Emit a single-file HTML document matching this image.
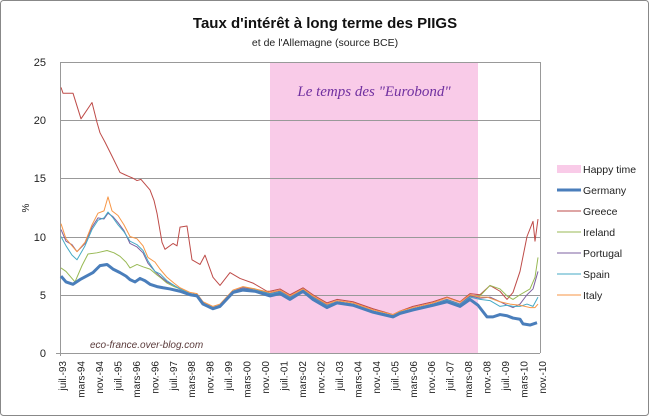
<!DOCTYPE html>
<html><head><meta charset="utf-8"><style>
body{margin:0;background:#fff}
svg{display:block;font-family:"Liberation Sans",sans-serif}
</style></head><body>
<svg width="650" height="417" viewBox="0 0 650 417" xmlns="http://www.w3.org/2000/svg">
<rect x="0.5" y="0.5" width="648" height="415" fill="#fff" stroke="#888" rx="3"/>
<text x="325" y="28" text-anchor="middle" font-size="15" font-weight="bold" fill="#111">Taux d'intérêt  à long terme des PIIGS</text>
<text x="325" y="46" text-anchor="middle" font-size="10.5" fill="#222">et de l'Allemagne (source BCE)</text>
<rect x="270" y="62" width="208" height="291" fill="#f9cbe8"/>
<g stroke="#999" stroke-width="1">
<line x1="60" y1="62.5" x2="540" y2="62.5"/><line x1="60" y1="120.5" x2="540" y2="120.5"/>
<line x1="60" y1="178.5" x2="540" y2="178.5"/><line x1="60" y1="237.5" x2="540" y2="237.5"/>
<line x1="60" y1="295.5" x2="540" y2="295.5"/><line x1="60" y1="353.5" x2="540" y2="353.5"/>
<line x1="60.5" y1="62" x2="60.5" y2="356"/><line x1="540.5" y1="62" x2="540.5" y2="353"/>
</g>
<g font-size="11" fill="#222" text-anchor="end">
<text x="46" y="66">25</text><text x="46" y="124">20</text><text x="46" y="182">15</text>
<text x="46" y="241">10</text><text x="46" y="299">5</text><text x="46" y="357">0</text>
</g>
<text x="25" y="212" font-size="10" fill="#222" transform="rotate(-90 25 208)" text-anchor="middle">%</text>
<text x="374" y="96" text-anchor="middle" font-family="Liberation Serif,serif" font-style="italic" font-size="15" fill="#7030a0">Le temps des "Eurobond"</text>
<text x="90" y="348" font-size="10" font-style="italic" fill="#5a3a3a">eco-france.over-blog.com</text>
<g transform="translate(0,353) scale(1,-11.65)" fill="none" stroke-linejoin="round">
<polyline vector-effect="non-scaling-stroke" stroke="#be4b48" stroke-width="1" points="61,22.8 63,22.3 73,22.3 81,20.1 92,21.5 97,19.8 100,18.9 105,18.1 112,16.9 120,15.5 125,15.3 133,15 137,14.8 141,14.9 150,14 154,13.1 157,12 162,9.5 165,8.9 173,9.4 177,9.2 180,10.8 187,10.9 192,8 200,7.6 205,8.4 213,6.5 220,5.8 230,6.9 240,6.4 253,6 267,5.3 270,5.3 280,5.5 290,5 303,5.6 313,5 327,4.3 337,4.6 353,4.4 363,4.1 373,3.8 393,3.3 400,3.6 413,4 433,4.4 447,4.8 460,4.4 470,5.1 480,5 490,5.8 500,5.3 507,4.6 513,5.2 520,7 527,10 533,11.3 535,9.6 538,11.5"/>
<polyline vector-effect="non-scaling-stroke" stroke="#98b954" stroke-width="1" points="61,7.3 66,7 75,6.1 82,7.5 88,8.5 97,8.6 107,8.8 114,8.6 120,8.3 126,7.8 130,7.3 137,7.6 143,7.4 150,7.2 157,6.7 160,6.5 167,6 174,5.7 180,5.5 190,5.1 197,5 203,4.3 213,3.9 220,4.1 233,5.3 243,5.6 255,5.5 270,5.1 280,5.3 290,4.8 303,5.4 313,4.8 327,4.1 337,4.4 353,4.2 363,3.9 373,3.6 393,3.2 400,3.5 413,3.8 433,4.2 447,4.6 460,4.2 470,4.8 480,4.9 490,5.8 500,5.5 507,4.9 513,4.6 520,5 530,5.5 535,6.5 538,8.2"/>
<polyline vector-effect="non-scaling-stroke" stroke="#7d60a0" stroke-width="1" points="61,10.6 66,9.6 72,9.3 77,8.7 85,9.4 92,10.8 98,11.6 104,11.5 108,12 113,11.7 118,11.2 124,10.5 130,9.4 137,9.1 143,8.6 148,7.7 155,7 160,6.6 167,6.1 174,5.8 180,5.5 190,5.1 197,5 203,4.3 213,3.9 220,4.1 233,5.3 243,5.6 255,5.4 270,5.1 280,5.3 290,4.8 303,5.4 313,4.8 327,4.1 337,4.4 353,4.2 363,3.9 373,3.6 393,3.2 400,3.5 413,3.8 433,4.2 447,4.6 460,4.2 470,4.9 480,4.7 490,4.8 500,4.4 507,4.1 513,3.9 520,4.2 527,5 533,5.5 538,7"/>
<polyline vector-effect="non-scaling-stroke" stroke="#46aac5" stroke-width="1" points="61,10 66,9.2 72,8.4 77,8 85,9.2 92,10.6 98,11.4 104,11.6 108,12.1 113,11.6 118,11 124,10.4 130,9.6 137,9.3 143,8.8 148,7.9 155,7 160,6.8 167,6.2 174,5.8 180,5.5 190,5.1 197,5 203,4.3 213,3.9 220,4.1 233,5.3 243,5.5 255,5.4 270,5.05 280,5.25 290,4.75 303,5.4 313,4.75 327,4.05 337,4.4 353,4.2 363,3.9 373,3.6 393,3.2 400,3.5 413,3.8 433,4.2 447,4.55 460,4.15 470,4.8 480,4.6 490,4.5 500,4 507,4.1 513,4 520,4 527,4.2 533,4 538,4.8"/>
<polyline vector-effect="non-scaling-stroke" stroke="#f79646" stroke-width="1" points="61,11.1 66,9.8 72,9.2 77,8.7 85,9.5 92,11 98,12 104,12.2 108,13.4 112,12.2 118,11.8 124,11 130,10 137,9.8 143,9.2 148,8.2 155,7.8 160,7.2 167,6.5 174,6 180,5.6 190,5.2 197,5.1 203,4.4 213,4 220,4.2 233,5.4 243,5.7 255,5.5 270,5.2 280,5.4 290,4.9 303,5.5 313,4.9 327,4.2 337,4.5 353,4.3 363,4 373,3.7 393,3.3 400,3.6 413,3.9 433,4.3 447,4.75 460,4.35 470,5 480,4.8 487,4.8 500,4.4 510,4.2 520,4.1 530,3.9 535,3.9 538,4.2"/>
<polyline vector-effect="non-scaling-stroke" stroke="#4a7ebb" stroke-width="3" points="61,6.6 66,6.1 73,5.9 80,6.3 93,6.9 100,7.5 107,7.6 113,7.2 120,6.9 126,6.6 130,6.3 135,6.1 140,6.4 145,6.2 150,5.9 157,5.7 163,5.6 170,5.5 180,5.3 190,5 197,4.9 203,4.2 213,3.8 220,4 233,5.2 243,5.4 255,5.3 270,4.9 280,5.1 290,4.6 303,5.3 313,4.6 327,3.9 337,4.3 353,4.1 363,3.8 373,3.5 393,3.1 400,3.4 413,3.7 433,4.1 447,4.4 460,4 470,4.6 478,4.1 487,3.1 493,3.1 500,3.3 507,3.2 513,3 520,2.9 523,2.5 530,2.4 537,2.6"/>
</g>
<g stroke="#999"><line x1="56" y1="353.5" x2="60" y2="353.5"/></g>
<g font-size="10" fill="#222" text-anchor="end">
<text transform="translate(66,361) rotate(-90)">juil.-93</text>
<text transform="translate(84.5,361) rotate(-90)">mars-94</text>
<text transform="translate(103,361) rotate(-90)">nov.-94</text>
<text transform="translate(121.4,361) rotate(-90)">juil.-95</text>
<text transform="translate(139.8,361) rotate(-90)">mars-96</text>
<text transform="translate(158.3,361) rotate(-90)">nov.-96</text>
<text transform="translate(176.8,361) rotate(-90)">juil.-97</text>
<text transform="translate(195.2,361) rotate(-90)">mars-98</text>
<text transform="translate(213.7,361) rotate(-90)">nov.-98</text>
<text transform="translate(232.2,361) rotate(-90)">juil.-99</text>
<text transform="translate(250.6,361) rotate(-90)">mars-00</text>
<text transform="translate(269,361) rotate(-90)">nov.-00</text>
<text transform="translate(287.5,361) rotate(-90)">juil.-01</text>
<text transform="translate(306,361) rotate(-90)">mars-02</text>
<text transform="translate(324.5,361) rotate(-90)">nov.-02</text>
<text transform="translate(343,361) rotate(-90)">juil.-03</text>
<text transform="translate(361.4,361) rotate(-90)">mars-04</text>
<text transform="translate(379.8,361) rotate(-90)">nov.-04</text>
<text transform="translate(398.3,361) rotate(-90)">juil.-05</text>
<text transform="translate(416.8,361) rotate(-90)">mars-06</text>
<text transform="translate(435.2,361) rotate(-90)">nov.-06</text>
<text transform="translate(453.7,361) rotate(-90)">juil.-07</text>
<text transform="translate(472.2,361) rotate(-90)">mars-08</text>
<text transform="translate(490.6,361) rotate(-90)">nov.-08</text>
<text transform="translate(509,361) rotate(-90)">juil.-09</text>
<text transform="translate(527.5,361) rotate(-90)">mars-10</text>
<text transform="translate(546,361) rotate(-90)">nov.-10</text>
</g>
<g font-size="10.5" fill="#222">
<rect x="557" y="165" width="24" height="8" fill="#f9cbe8"/><text x="583" y="173">Happy time</text>
<line x1="557" y1="190" x2="581" y2="190" stroke="#4a7ebb" stroke-width="3"/><text x="583" y="194">Germany</text>
<line x1="557" y1="211" x2="581" y2="211" stroke="#be4b48"/><text x="583" y="215">Greece</text>
<line x1="557" y1="232" x2="581" y2="232" stroke="#98b954"/><text x="583" y="236">Ireland</text>
<line x1="557" y1="253" x2="581" y2="253" stroke="#7d60a0"/><text x="583" y="257">Portugal</text>
<line x1="557" y1="274" x2="581" y2="274" stroke="#46aac5"/><text x="583" y="278">Spain</text>
<line x1="557" y1="295" x2="581" y2="295" stroke="#f79646"/><text x="583" y="299">Italy</text>
</g>
</svg>
</body></html>
